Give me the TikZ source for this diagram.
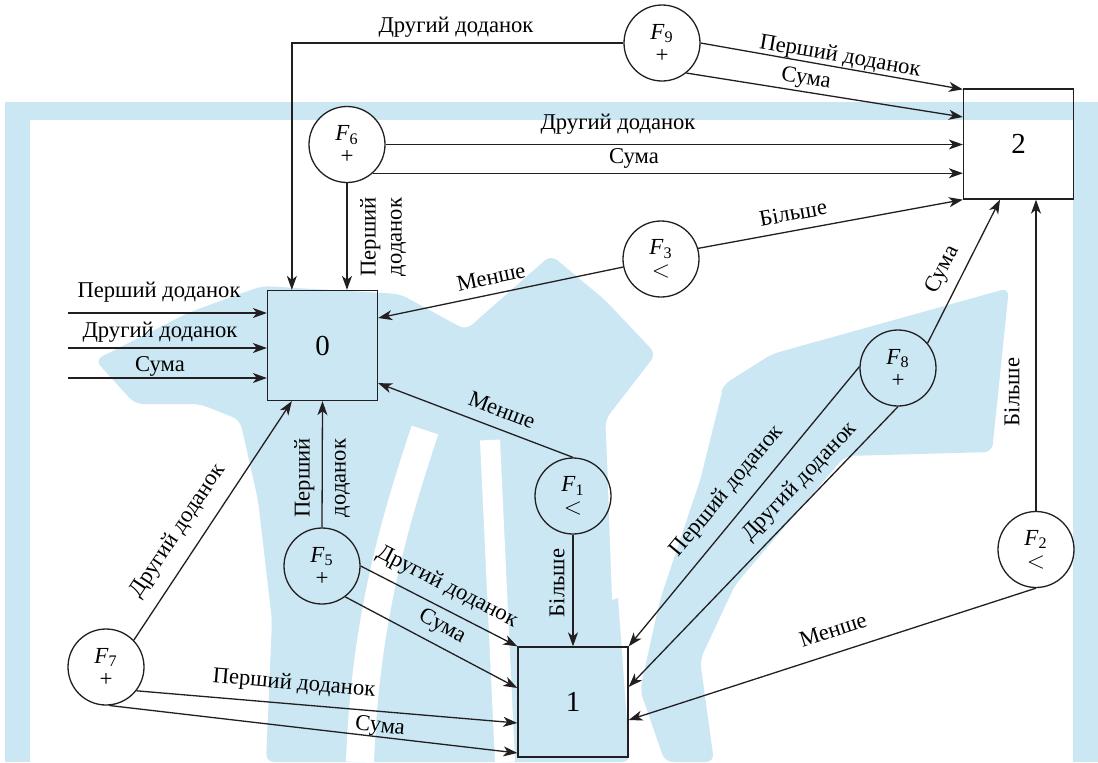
\documentclass[tikz,border=0pt]{standalone}
\usepackage{fontspec}
\setmainfont{Liberation Serif}
\usetikzlibrary{arrows.meta,calc}
\definecolor{wm}{RGB}{203,231,243}
\definecolor{ink}{RGB}{35,31,32}

\begin{document}
\begin{tikzpicture}[x=0.5pt,y=-0.5pt,
  fn/.style={circle,draw=ink,line width=0.65pt,minimum size=38pt,inner sep=0pt,
             align=center,font=\rmfamily\fontsize{11.5}{11.5}\selectfont},
  st/.style={rectangle,draw=ink,line width=0.65pt,minimum width=55pt,minimum height=55pt,
             inner sep=0pt,font=\rmfamily\fontsize{14.5}{16}\selectfont},
  lb/.style={inner sep=0pt,font=\rmfamily\fontsize{11.3}{13}\selectfont},
  conn/.style={draw=ink,line width=0.65pt,-{Stealth[length=7pt,width=5pt,inset=2pt]}}
]
\useasboundingbox (0,0) rectangle (1098,762);

% page frame
\fill[wm] (5,102) rectangle (1098,762);
\fill[white] (30,120) rectangle (1073,762);

% emblem in the background
\fill[wm, rounded corners=4pt] (95,360) -- (190,312) -- (262,286) -- (400,294) -- (466,330)
  -- (551,255) -- (605,300) -- (656,354) -- (605,420) -- (630,762) -- (266,762)
  -- (272,620) -- (258,500) -- (240,420) -- (200,404) -- (135,404) -- cycle;
\fill[wm, rounded corners=4pt] (772,354) -- (1009,288) -- (992,452) -- (845,456) -- (735,585)
  -- (700,660) -- (714,762) -- (665,762) -- (640,690) -- (660,600) -- (700,480) -- (723,385) -- cycle;
\draw[white, line width=10pt] (490,440) -- (505,762);
\draw[white, line width=14pt] (425,430) .. controls (395,520) and (365,620) .. (360,762);
\fill[white] (606,430) -- (690,392) -- (722,392) -- (700,480) -- (665,580) -- (612,600) -- cycle;

% states
\node[st] (b0) at (322.5,345.5) {0};
\node[st] (b1) at (573,702) {1};
\node[st] (b2) at (1018.5,144) {2};

% functions
\node[fn] (f9) at (662,43) {\textit{F}\textsubscript{9}\\+};
\node[fn,fill=white] (f6) at (347,144.5) {\textit{F}\textsubscript{6}\\+};
\node[fn] (f3) at (661,259) {\textit{F}\textsubscript{3}\\$<$};
\node[fn] (f8) at (898,368) {\textit{F}\textsubscript{8}\\+};
\node[fn] (f1) at (573,496) {\textit{F}\textsubscript{1}\\$<$};
\node[fn] (f2) at (1036,549.5) {\textit{F}\textsubscript{2}\\$<$};
\node[fn] (f7) at (106,667) {\textit{F}\textsubscript{7}\\+};
\node[fn] (f5) at (322,566) {\textit{F}\textsubscript{5}\\+};

% external inputs
\coordinate (in1) at (68,313);
\coordinate (in2) at (68,348);
\coordinate (in3) at (68,378);
\draw[conn] (in1) -- (in1 -| b0.west);
\draw[conn] (in2) -- (in2 -| b0.west);
\draw[conn] (in3) -- (in3 -| b0.west);
\node[lb] (tin1) at (159,292) {Перший доданок};
\node[lb] (tin2) at (160,332) {Другий доданок};
\node[lb] (tin3) at (160,366) {Сума};

% F9
\draw[conn] (f9.west) -| ($(b0.north west)+(25,0)$);
\node[lb] (t91) at (456,27) {Другий доданок};
\draw[conn] (f9.east) -- ($(b2.north west)+(0,1)$);
\node[lb,rotate=-9.7] (t92) at (840,57) {Перший доданок};
\draw[conn] (f9.-51) -- ($(b2.west)+(0,-27)$);
\node[lb,rotate=-8.9] (t93) at (806,79) {Сума};

% F6
\draw[conn] (f6.east) -- (f6.east -| b2.west);
\node[lb] (t61) at (618,124) {Другий доданок};
\draw[conn] (f6.-48.6) -- (f6.-48.6 -| b2.west);
\node[lb] (t62) at (634,158) {Сума};
\draw[conn] (f6.south) -- (f6.south |- b0.north);
\node[lb,rotate=90,align=center] (t63) at (383,237) {Перший\\доданок};

% F3
\draw[conn] (f3.16) -- (b2.south west);
\node[lb,rotate=10.5] (t31) at (793,213) {Більше};
\draw[conn] (f3.192) -- ($(b0.east)+(0,-27.5)$);
\node[lb,rotate=11.8] (t32) at (491,277) {Менше};

% F8
\draw[conn] (f8.40) -- ($(b2.south)+(-18.5,0)$);
\node[lb,rotate=63.4] (t81) at (943,270) {Сума};
\draw[conn] (f8.178) -- (b1.north east);
\node[lb,rotate=50.2] (t82) at (727,491) {Перший доданок};
\draw[conn] (f8.south) -- ($(b1.east)+(0,-15)$);
\node[lb,rotate=46.1] (t83) at (800,482) {Другий доданок};

% F2
\draw[conn] (f2.north) -- (f2.north |- b2.south);
\node[lb,rotate=90] (t21) at (1012,392) {Більше};
\draw[conn] (f2.south) -- ($(b1.east)+(0,18)$);
\node[lb,rotate=18.1] (t22) at (833,630) {Менше};

% F1
\draw[conn] (f1.south) -- (b1.north);
\node[lb,rotate=90] (t11) at (557,583) {Більше};
\draw[conn] (f1.north) -- ($(b0.south east)+(0,-18)$);
\node[lb,rotate=-21.1] (t12) at (502,410) {Менше};

% F5
\draw[conn] (f5.north) -- (b0.south);
\node[lb,rotate=90,align=center,font=\rmfamily\fontsize{11.3}{18}\selectfont] (t51) at (322,478) {Перший\\доданок};
\draw[conn] (f5.east) -- (b1.north west);
\node[lb,rotate=-27.1] (t52) at (447,587) {Другий доданок};
\draw[conn] (f5.-53) -- ($(b1.west)+(0,-14)$);
\node[lb,rotate=-28] (t53) at (442,627) {Сума};

% F7
\draw[conn] (f7.44) -- ($(b0.south west)+(25,0)$);
\node[lb,rotate=56.4] (t71) at (178,531) {Другий доданок};
\draw[conn] (f7.-38) -- ($(b1.west)+(0,21)$);
\node[lb,rotate=-4.9] (t72) at (294,684) {Перший доданок};
\draw[conn] (f7.-85) -- ($(b1.west)+(0,51)$);
\node[lb,rotate=-6.7] (t73) at (380,727) {Сума};
\end{tikzpicture}
\end{document}
